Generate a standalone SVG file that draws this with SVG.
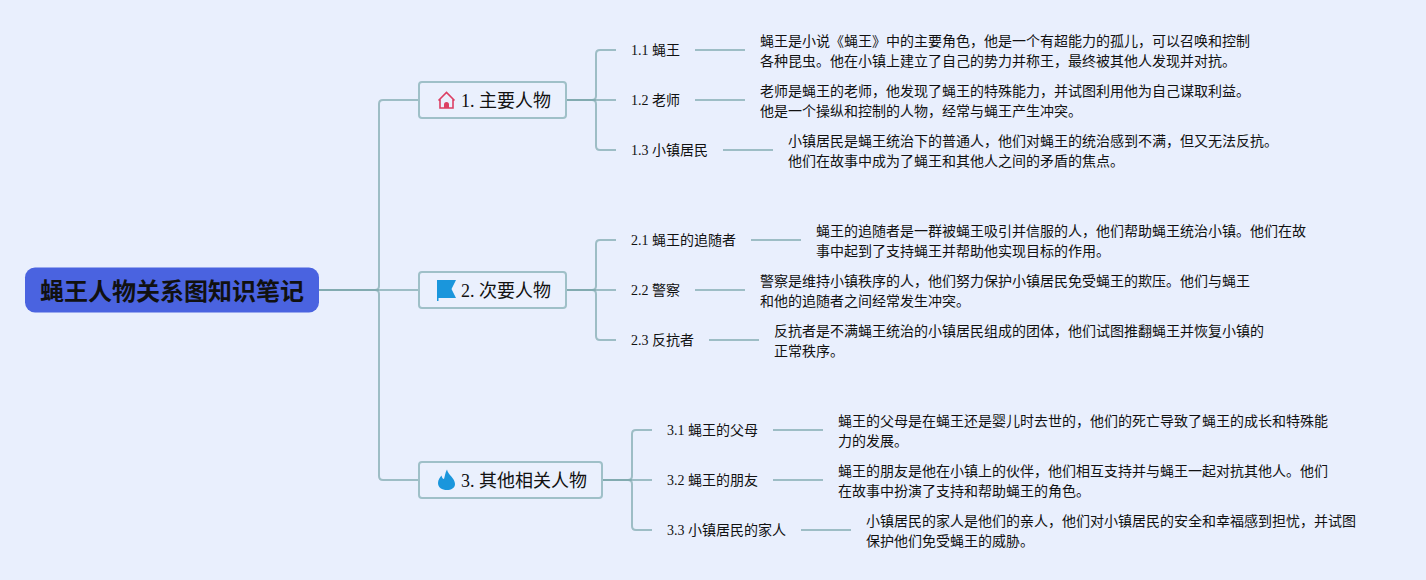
<svg xmlns="http://www.w3.org/2000/svg" width="1426" height="580" viewBox="0 0 1426 580">
<style>
text{font-family:"Liberation Serif","Noto Sans CJK SC",serif;fill:#111}
.c{fill:none;stroke:#7fa9af;stroke-opacity:.72;stroke-width:2}
.t{fill:#eaf0fd;stroke:#9fc0c8;stroke-width:2}
.m{font-size:18px}
.s{font-size:14px}
.d{font-size:14px}
</style>
<rect width="1426" height="580" fill="#e9effd"/>
<g id="connectors">
<path class="c" d="M319 290H375Q379 290 379 286V104Q379 100 383 100H419"/>
<path class="c" d="M319 290H419"/>
<path class="c" d="M319 290H375Q379 290 379 294V476Q379 480 383 480H419"/>
<path class="c" d="M566 100H592Q596 100 596 96V54Q596 50 600 50H616"/>
<path class="c" d="M566 100H616"/>
<path class="c" d="M566 100H592Q596 100 596 104V146Q596 150 600 150H616"/>
<path class="c" d="M566 290H592Q596 290 596 286V244Q596 240 600 240H616"/>
<path class="c" d="M566 290H616"/>
<path class="c" d="M566 290H592Q596 290 596 294V336Q596 340 600 340H616"/>
<path class="c" d="M602 480H628Q632 480 632 476V434Q632 430 636 430H652"/>
<path class="c" d="M602 480H652"/>
<path class="c" d="M602 480H628Q632 480 632 484V526Q632 530 636 530H652"/>
<path class="c" d="M695 50H745M695 100H745M723 150H773M751 240H801M695 290H745M709 340H759M773 430H823M773 480H823M801 530H851"/>
</g>
<g id="root">
<rect x="25" y="267.5" width="294" height="45" rx="10" fill="#4a63e0"/>
<text x="172" y="300" font-size="24" font-weight="700" text-anchor="middle" fill="#0a0a14">蝇王人物关系图知识笔记</text>
</g>
<g id="t1">
<rect class="t" x="419" y="82" width="147" height="36" rx="3"/>
<path d="M438.500 100.500L446.500 92.500L454.500 100.500M440 99V108H453V99" fill="none" stroke="#dc3f63" stroke-width="1.600"/>
<path d="M444 108V104.500a2.500 2.500 0 0 1 5 0V108Z" fill="#dc3f63"/>
<text class="m" x="461" y="107">1. 主要人物</text>
</g>
<g id="t2">
<rect class="t" x="419" y="272" width="147" height="36" rx="3"/>
<path d="M437 280H456L451.500 289L456 298H438.500V301H437Z" fill="#1a96dc"/>
<text class="m" x="461" y="297">2. 次要人物</text>
</g>
<g id="t3">
<rect class="t" x="419" y="462" width="183" height="36" rx="3"/>
<path d="M447 469.500C448 475 455 478 455 484C455 488 451 490 447 490C442 490 438 487.500 438 483C438 479.500 440 477.500 441.500 475.500C442 478 443 479 444 479C445 476 445 473 447 469.500Z" fill="#1a96dc"/>
<text class="m" x="461" y="487">3. 其他相关人物</text>
</g>
<g id="s11"><text class="s" x="631" y="55">1.1 蝇王</text></g>
<g id="d11"><text class="d" x="760" y="46">蝇王是小说《蝇王》中的主要角色，他是一个有超能力的孤儿，可以召唤和控制</text><text class="d" x="760" y="66">各种昆虫。他在小镇上建立了自己的势力并称王，最终被其他人发现并对抗。</text></g>
<g id="s12"><text class="s" x="631" y="105">1.2 老师</text></g>
<g id="d12"><text class="d" x="760" y="96">老师是蝇王的老师，他发现了蝇王的特殊能力，并试图利用他为自己谋取利益。</text><text class="d" x="760" y="116">他是一个操纵和控制的人物，经常与蝇王产生冲突。</text></g>
<g id="s13"><text class="s" x="631" y="155">1.3 小镇居民</text></g>
<g id="d13"><text class="d" x="788" y="146">小镇居民是蝇王统治下的普通人，他们对蝇王的统治感到不满，但又无法反抗。</text><text class="d" x="788" y="166">他们在故事中成为了蝇王和其他人之间的矛盾的焦点。</text></g>
<g id="s21"><text class="s" x="631" y="245">2.1 蝇王的追随者</text></g>
<g id="d21"><text class="d" x="816" y="236">蝇王的追随者是一群被蝇王吸引并信服的人，他们帮助蝇王统治小镇。他们在故</text><text class="d" x="816" y="256">事中起到了支持蝇王并帮助他实现目标的作用。</text></g>
<g id="s22"><text class="s" x="631" y="295">2.2 警察</text></g>
<g id="d22"><text class="d" x="760" y="286">警察是维持小镇秩序的人，他们努力保护小镇居民免受蝇王的欺压。他们与蝇王</text><text class="d" x="760" y="306">和他的追随者之间经常发生冲突。</text></g>
<g id="s23"><text class="s" x="631" y="345">2.3 反抗者</text></g>
<g id="d23"><text class="d" x="774" y="336">反抗者是不满蝇王统治的小镇居民组成的团体，他们试图推翻蝇王并恢复小镇的</text><text class="d" x="774" y="356">正常秩序。</text></g>
<g id="s31"><text class="s" x="667" y="435">3.1 蝇王的父母</text></g>
<g id="d31"><text class="d" x="838" y="426">蝇王的父母是在蝇王还是婴儿时去世的，他们的死亡导致了蝇王的成长和特殊能</text><text class="d" x="838" y="446">力的发展。</text></g>
<g id="s32"><text class="s" x="667" y="485">3.2 蝇王的朋友</text></g>
<g id="d32"><text class="d" x="838" y="476">蝇王的朋友是他在小镇上的伙伴，他们相互支持并与蝇王一起对抗其他人。他们</text><text class="d" x="838" y="496">在故事中扮演了支持和帮助蝇王的角色。</text></g>
<g id="s33"><text class="s" x="667" y="535">3.3 小镇居民的家人</text></g>
<g id="d33"><text class="d" x="866" y="526">小镇居民的家人是他们的亲人，他们对小镇居民的安全和幸福感到担忧，并试图</text><text class="d" x="866" y="546">保护他们免受蝇王的威胁。</text></g>
</svg>
